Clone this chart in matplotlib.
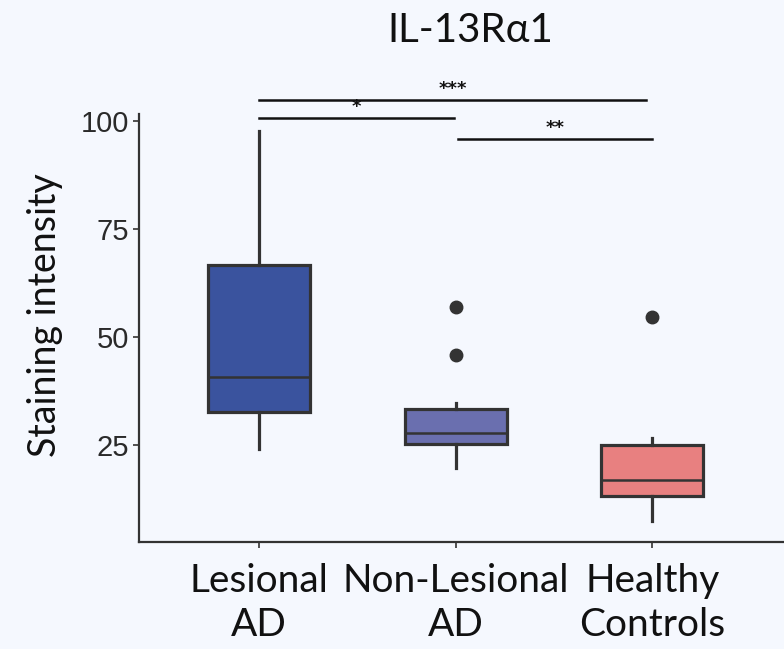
import matplotlib
matplotlib.use("Agg")
import matplotlib.pyplot as plt

# --- DATA ---
groups = ["Lesional\nAD", "Non-Lesional\nAD", "Healthy\nControls"]
whisker_low = [24.2, 19.7, 7.5]
q1 = [32.8, 25.3, 13.2]
median = [40.9, 27.9, 17.1]
q3 = [66.8, 33.4, 25.0]
whisker_high = [97.7, 34.8, 26.7]
outliers = [[], [57.1, 45.9], [54.8]]
box_colors = ["#3A539E", "#6A6FAF", "#E88080"]

# significance brackets: (start group, end group, height, label)
sig_x1 = [1.0, 1.0, 2.01]
sig_x2 = [2.97, 1.99, 3.0]
sig_y = [105.0, 100.7, 95.9]
sig_labels = ["***", "*", "**"]

bg = "#F5F8FE"
dark = "#333333"

fig = plt.figure(figsize=(7.84, 6.49), dpi=100)
fig.patch.set_facecolor(bg)
ax = fig.add_axes([0.1773, 0.1653, 0.8227, 0.6598])
ax.set_facecolor(bg)

stats = []
for i in range(len(groups)):
    stats.append({
        "whislo": whisker_low[i], "q1": q1[i], "med": median[i],
        "q3": q3[i], "whishi": whisker_high[i], "fliers": outliers[i],
    })

bp = ax.bxp(stats, positions=[1, 2, 3], widths=0.52, patch_artist=True,
            showcaps=False,
            boxprops=dict(edgecolor=dark, linewidth=2.3),
            medianprops=dict(color=dark, linewidth=1.8),
            whiskerprops=dict(color=dark, linewidth=2.3),
            flierprops=dict(marker="o", markerfacecolor=dark,
                            markeredgecolor=dark, markersize=9))
for patch, c in zip(bp["boxes"], box_colors):
    patch.set_facecolor(c)

ax.set_xlim(0.389, 3.67)
ax.set_ylim(2.7, 101.85)
ax.set_yticks([25, 50, 75, 100])
ax.set_yticklabels(["25", "50", "75", "100"], family="Liberation Sans",
                   fontsize=21, color="#2a2a2a")
ax.set_xticks([1, 2, 3])
ax.set_xticklabels(groups, family="Lato", fontsize=28,
                   color="#111111", linespacing=1.3)
ax.tick_params(axis="both", length=4, width=1.2, color=dark)
ax.tick_params(axis="x", pad=11)
ax.tick_params(axis="y", pad=3)

for s in ["top", "right"]:
    ax.spines[s].set_visible(False)
for s in ["left", "bottom"]:
    ax.spines[s].set_color(dark)
    ax.spines[s].set_linewidth(1.6)

ax.set_ylabel("Staining intensity", family="Lato", fontsize=27,
              color="#111111")
ax.yaxis.set_label_coords(-0.118, 0.53)

# significance bars
for x1, x2, y, lab in zip(sig_x1, sig_x2, sig_y, sig_labels):
    ax.plot([x1, x2], [y, y], color="#111111", lw=1.8, clip_on=False)
    ax.text((x1 + x2) / 2, y + 0.5, lab, ha="center", va="bottom",
            fontsize=13, family="DejaVu Sans", color="#111111",
            fontweight="bold")

fig.text(0.6, 0.953, "IL-13R\u03b11", ha="center", va="center",
         family="Lato", fontsize=29, color="#111111")

plt.savefig("out.png", dpi=100, facecolor=bg)
